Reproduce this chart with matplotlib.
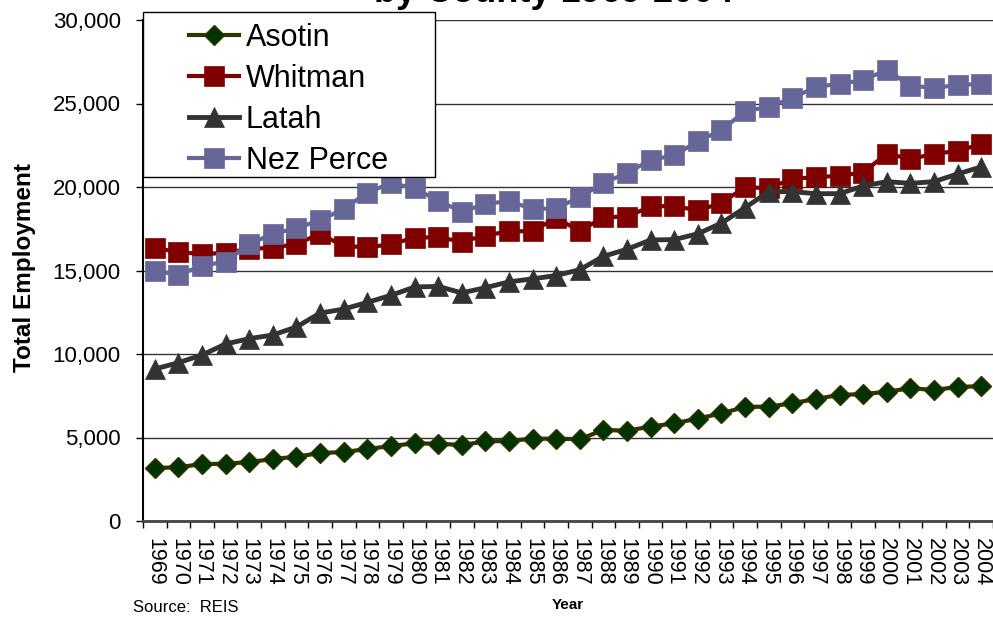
import matplotlib.pyplot as plt
from matplotlib.patches import Rectangle
import numpy as np

plt.rcParams['font.family'] = ['Liberation Sans', 'DejaVu Sans']

years = list(range(1969, 2005))

asotin = [3170, 3220, 3410, 3430, 3530, 3710, 3850, 4070, 4130, 4310, 4490, 4650,
          4630, 4550, 4770, 4790, 4930, 4930, 4900, 5450, 5410, 5650, 5850, 6130,
          6450, 6830, 6850, 7050, 7310, 7550, 7600, 7740, 7950, 7850, 8020, 8080]
whitman = [16350, 16100, 15990, 16050, 16300, 16350, 16600, 17180, 16470, 16390, 16570, 16970,
           16990, 16730, 17090, 17350, 17350, 18150, 17350, 18200, 18220, 18840, 18860, 18600,
           19040, 20000, 19920, 20500, 20580, 20680, 20860, 22000, 21680, 21980, 22160, 22570]
latah = [9100, 9480, 9940, 10600, 10920, 11140, 11620, 12450, 12690, 13090, 13510, 14010,
         14050, 13660, 13970, 14320, 14500, 14700, 15050, 15850, 16270, 16830, 16850, 17200,
         17840, 18760, 19720, 19720, 19600, 19600, 20060, 20320, 20220, 20320, 20780, 21200]
nez_perce = [15000, 14740, 15290, 15530, 16590, 17190, 17530, 18020, 18680, 19660, 20240, 19920,
             19180, 18520, 18980, 19160, 18680, 18720, 19400, 20240, 20840, 21620, 21900, 22740,
             23400, 24550, 24790, 25330, 25990, 26190, 26390, 27010, 26070, 25930, 26110, 26170]

W, H = 993, 618
fig = plt.figure(figsize=(W / 100, H / 100), dpi=100)
ax = fig.add_axes([143 / W, (H - 521) / H, (W - 143) / W, 501 / H])

x = np.arange(len(years))
ax.plot(x, asotin, color='#333300', lw=3, marker='D', ms=10.5,
        mfc='#003300', mec='#333300', mew=1, label='Asotin', zorder=3)
ax.plot(x, whitman, color='#800000', lw=3, marker='s', ms=14.5,
        mfc='#800000', mec='#800000', mew=0.5, label='Whitman', zorder=3)
ax.plot(x, latah, color='#333333', lw=3.5, marker='^', ms=15,
        mfc='#333333', mec='#333333', mew=0.5, label='Latah', zorder=3)
ax.plot(x, nez_perce, color='#666699', lw=3, marker='s', ms=14.5,
        mfc='#666699', mec='#666699', mew=0.5, label='Nez Perce', zorder=3)

ax.set_xlim(-0.5, len(years) - 0.5)
ax.set_ylim(0, 30000)
ax.set_yticks(range(0, 30001, 5000))
ax.set_yticklabels([f'{v:,}' for v in range(0, 30001, 5000)], fontsize=16)
ax.yaxis.grid(True, color='#333333', lw=1)
ax.set_axisbelow(True)

# year labels sit at category centres, tick marks at the boundaries
ax.set_xticks(x)
ax.set_xticklabels([str(y) for y in years], rotation=-90, fontsize=15.5)
ax.set_xticks(np.arange(-0.5, len(years)), minor=True)
ax.tick_params(axis='x', which='major', length=0, pad=12)
ax.tick_params(axis='x', which='minor', length=5, width=1, direction='out')
ax.tick_params(axis='y', length=5, width=1, direction='out', pad=11)

for s in ['top', 'right']:
    ax.spines[s].set_visible(False)
ax.spines['left'].set_linewidth(1.5)
ax.spines['bottom'].set_linewidth(2)
ax.spines['bottom'].set_color('#444444')

ax.set_ylabel('Total Employment', fontsize=17.5, fontweight='bold')
ax.yaxis.set_label_coords(-(143 - 25) / (W - 143), (521 - 268) / 501, transform=ax.transAxes)
ax.yaxis.label.set_va('center')

# legend box drawn separately so the padding can be uneven
box = Rectangle((143 / W, 1 - 177 / H), (435 - 143) / W, (177 - 12) / H,
                transform=fig.transFigure, facecolor='white', edgecolor='black',
                lw=1, zorder=4, clip_on=False)
ax.add_artist(box)
leg = ax.legend(loc='upper left', bbox_to_anchor=(189 / W, 1 - 23 / H),
                bbox_transform=fig.transFigure, frameon=False, fontsize=22,
                handlelength=1.65, handletextpad=0.2, labelspacing=0.355,
                borderpad=0, borderaxespad=0)
leg.set_zorder(5)

fig.text(554 / W, 1 - 2.5 / H, 'by County 1969-2004', ha='center', va='baseline',
         fontsize=26, fontweight='bold')
fig.text(568 / W, 1 - 605 / H, 'Year', ha='center', va='center',
         fontsize=11, fontweight='bold')
fig.text(133 / W, 1 - 608 / H, 'Source:  REIS', ha='left', va='center', fontsize=12)

plt.savefig('out.png', dpi=100)
